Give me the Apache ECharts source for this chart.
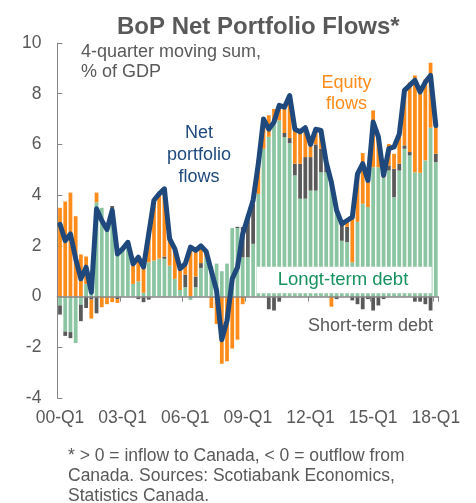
<!DOCTYPE html>
<html>
<head>
<meta charset="utf-8">
<script src="https://cdn.jsdelivr.net/npm/echarts@6/dist/echarts.min.js"></script>
<style>
  html, body { margin: 0; padding: 0; background: #fff; }
  #chart { width: 476px; height: 503px; }
</style>
</head>
<body>
<div id="chart"></div>
<script>
// quarters 2000-Q1 .. 2018-Q1
let quarters = [];
for (let y = 2000; y <= 2018; y++) {
    for (let q = 1; q <= 4; q++) {
        if (y === 2018 && q > 1) break;
        quarters.push(String(y).slice(2) + '-Q' + q);
    }
}

// % of GDP, 4-quarter moving sum
let longTermDebt = [
    -0.35, -1.38, -1.4, -1.83, -0.32, 0.5, 1.0, 3.72, 3.5, 2.9, 3.45, 1.85,
    1.85, 2.15, 0.5, 0.6, 0.15, 1.35, 1.42, 1.5, 1.49, 1.22, 0.7, 0.26,
    0.37, -0.13, 0.37, 1.13, 1.55, 1.2, 1.3, 1.0, 1.3, 2.7, 2.7, 1.55,
    1.55, 2.08, 4.05, 5.83, 6.3, 6.88, 6.95, 6.29, 6.05, 4.78, 3.86, 3.86,
    4.18, 4.18, 4.9, 4.9, 4.58, 3.4, 2.2, 2.15, 1.35, 2.95, 3.66, 3.53,
    5.1, 5.1, 4.7, 4.97, 3.92, 4.97, 5.83, 5.57, 4.9, 4.88, 5.37, 6.66,
    5.3
];
let shortTermDebt = [
    -0.36, -0.17, -0.24, 0, -0.65, -0.45, -0.12, -0.66, 0, 0, 0.12, -0.1,
    0, 0, 0, -0.1, -0.22, -0.12, 0, 0, 0.09, 0, 0, 0,
    0.5, 0, 0.42, 0.19, 0, 0, 0, 0, 0, 0, 0.05, 1.19,
    1.58, 1.58, 0, 0, -0.5, -0.55, -0.2, 0.16, 0.2, 0.46, 1.38, 1.64,
    1.32, 1.82, 0.93, 0.4, 0, -0.1, 0.67, 0.6, -0.15, -0.3, -0.5, -0.1,
    -0.55, -0.35, -0.1, 0.2, 1.12, 0.27, 0.13, 0.13, -0.2, -0.2, -0.3, -0.55,
    0.33
];
let equityFlows = [
    3.5, 3.75, 4.1, 3.17, 1.66, 1.08, -0.75, 0.38, -0.42, -0.3, -0.22, -0.15,
    0.05, 0, 0.72, 1.0, 1.27, 1.3, 2.38, 2.6, 2.65, 1.06, 1.1, 0.8,
    0.35, 2.0, 0.96, 0.72, 0.2, -0.45, -1.08, -2.65, -2.55, -2.05, -1.7, -0.3,
    0, 0.1, 1.35, 1.25, 0.85, 0.52, 0.6, 0.95, 1.45, 1.36, 1.26, 1.0,
    0.5, 0.6, 0.6, 0, -0.4, 0, 0, 0.2, 1.8, 1.9, 2.0, 1.05,
    2.24, 1.2, 0.05, 0.85, 0.59, 1.05, 2.2, 2.75, 3.82, 3.3, 3.2, 2.56,
    1.05
];
let netFlows = [
    2.85, 2.2, 2.47, 1.5, 0.7, 1.16, 0.17, 3.46, 3.0, 2.64, 3.4, 1.68,
    1.88, 2.14, 1.29, 1.55, 1.16, 2.47, 3.8, 4.05, 4.25, 2.28, 1.88, 1.1,
    1.29, 1.95, 1.82, 2.0, 1.78, 1.0, 0.24, -1.7, -0.95, 0.7, 1.15, 2.47,
    3.13, 3.8, 5.24, 7.0, 6.6, 6.88, 7.54, 7.47, 7.93, 6.6, 6.5, 6.66,
    6.0, 6.6, 6.55, 5.3, 4.5, 3.4, 2.87, 3.0, 3.13, 4.84, 5.24, 4.58,
    6.88, 6.3, 4.78, 5.83, 5.9, 6.4, 8.13, 8.33, 8.53, 8.07, 8.46, 8.72,
    6.75
];

let textGray = '#595959';
let axisGray = '#868686';
let font = 'Liberation Sans, Arial, sans-serif';

let chart = echarts.init(document.getElementById('chart'));
chart.setOption({
    animation: false,
    textStyle: { fontFamily: font },
    title: {
        text: 'BoP Net Portfolio Flows*',
        left: 112,
        top: 10,
        textStyle: { fontSize: 24, fontWeight: 'bold', color: textGray, fontFamily: font }
    },
    grid: { left: 57.4, top: 43, width: 381, height: 355 },
    xAxis: [{
        type: 'category',
        data: quarters,
        position: 'bottom',
        z: 3,
        axisLine: { onZero: true, lineStyle: { color: axisGray, width: 1.5 } },
        axisTick: { show: true, interval: 11, length: 5, lineStyle: { color: axisGray } },
        axisLabel: { show: false },
        splitLine: { show: false }
    }, {
        type: 'category',
        data: quarters,
        position: 'bottom',
        axisLine: { show: false, onZero: false },
        axisTick: { show: false },
        axisLabel: { interval: 11, margin: 11, fontSize: 17.5, color: textGray, fontFamily: font },
        splitLine: { show: false }
    }],
    yAxis: {
        type: 'value',
        min: -4,
        max: 10,
        interval: 2,
        axisLine: { show: true, lineStyle: { color: axisGray, width: 1 } },
        axisTick: { show: true, inside: true, length: 5, lineStyle: { color: axisGray } },
        axisLabel: { margin: 16, fontSize: 17.5, color: textGray, fontFamily: font },
        splitLine: { show: false }
    },
    series: [{
        name: 'Long-term debt',
        type: 'bar',
        stack: 'flows',
        barCategoryGap: '28%',
        itemStyle: { color: '#8cc5a2' },
        data: longTermDebt
    }, {
        name: 'Short-term debt',
        type: 'bar',
        stack: 'flows',
        itemStyle: { color: '#595959' },
        data: shortTermDebt
    }, {
        name: 'Equity flows',
        type: 'bar',
        stack: 'flows',
        itemStyle: { color: '#ff8c1a' },
        data: equityFlows
    }, {
        name: 'Net portfolio flows',
        type: 'line',
        z: 6,
        symbol: 'none',
        lineStyle: { color: '#1f497d', width: 5, join: 'round', cap: 'round' },
        data: netFlows
    }],
    graphic: [{
        type: 'text', z: 100,
        style: { text: '4-quarter moving sum,\n% of GDP', x: 81, y: 62, textAlign: 'left', textVerticalAlign: 'middle',
                 fontSize: 18, lineHeight: 20.5, fontFamily: font, fill: textGray }
    }, {
        type: 'text', z: 100,
        style: { text: 'Net\nportfolio\nflows', x: 199, y: 155, textAlign: 'center', textVerticalAlign: 'middle',
                 fontSize: 18, lineHeight: 22, fontFamily: font, fill: '#1f497d' }
    }, {
        type: 'text', z: 100,
        style: { text: 'Equity\nflows', x: 346.5, y: 93.5, textAlign: 'center', textVerticalAlign: 'middle',
                 fontSize: 18, lineHeight: 21, fontFamily: font, fill: '#ff8c1a' }
    }, {
        type: 'rect', z: 100,
        shape: { x: 256.7, y: 266.7, width: 175, height: 26.6 },
        style: { fill: '#ffffff' }
    }, {
        type: 'text', z: 101,
        style: { text: 'Longt-term debt', x: 343, y: 280, textAlign: 'center', textVerticalAlign: 'middle',
                 fontSize: 18.5, fontFamily: font, fill: '#17925e' }
    }, {
        type: 'text', z: 100,
        style: { text: 'Short-term debt', x: 433, y: 326, textAlign: 'right', textVerticalAlign: 'middle',
                 fontSize: 18, fontFamily: font, fill: textGray }
    }, {
        type: 'text', z: 100,
        style: { text: '* > 0 = inflow to Canada, < 0 = outflow from\nCanada. Sources: Scotiabank Economics,\nStatistics Canada.',
                 x: 68, y: 476, textAlign: 'left', textVerticalAlign: 'middle',
                 fontSize: 17.5, lineHeight: 20, fontFamily: font, fill: textGray }
    }]
});
</script>
</body>
</html>
